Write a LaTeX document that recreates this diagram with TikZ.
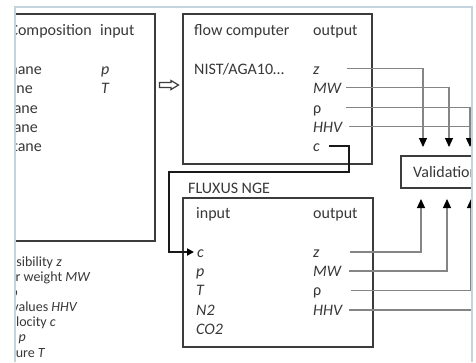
\documentclass[tikz,border=0pt]{standalone}
\usepackage{fontspec}
\setmainfont{Carlito}
\usetikzlibrary{arrows.meta}
\definecolor{boxc}{HTML}{3C3C3C}
\definecolor{linec}{HTML}{858585}
\definecolor{framec}{HTML}{C4D4DF}
\definecolor{txtc}{HTML}{383838}
\tikzset{
  box/.style={draw=boxc, line width=1.5pt, inner sep=0pt, fill=none},
  txt/.style={anchor=base west, inner sep=0pt, font=\fontsize{16}{19}\selectfont, text=txtc},
  rtxt/.style={anchor=base east, inner sep=0pt, font=\fontsize{16}{19}\selectfont, text=txtc},
  stxt/.style={anchor=base east, inner sep=0pt, font=\fontsize{14}{15}\selectfont, text=txtc},
  conn/.style={draw=linec, line width=1.2pt},
  vtip/.style={-{Triangle[length=9pt,width=8pt,color=black,fill=black]}},
  cconn/.style={draw=black!90, line width=1.8pt},
  ctip/.style={-{Triangle[length=7pt,width=7pt,color=black,fill=black]}},
  whitearrow/.style={draw=boxc, line width=1.2pt, line join=miter},
}
\begin{document}
\begin{tikzpicture}[x=1pt,y=-1pt]
\useasboundingbox (0,0) rectangle (476,362);
\fill[white] (0,0) rectangle (476,362);
\begin{scope}
\clip (15,7) rectangle (472,362);
% boxes
\node[box, anchor=north west, minimum width=164pt, minimum height=227pt] (comp) at (-10,13) {};
\node[box, anchor=north west, minimum width=189pt, minimum height=150pt] (fc) at (182,13) {};
\node[box, anchor=north west, minimum width=190pt, minimum height=149pt] (fl) at (182,197) {};
\node[box, anchor=north west, minimum width=100pt, minimum height=32pt] (val) at (400,155) {};
% composition box
\node[rtxt] (tcomp) at (92,35) {Composition};
\node[txt] (tin1) at (100,35) {input};
\node[rtxt] (g1) at (42,74) {Methane};
\node[rtxt] (g2) at (33,93) {Ethane};
\node[rtxt] (g3) at (38,113) {Propane};
\node[rtxt] (g4) at (38,132) {Butane};
\node[rtxt] (g5) at (42,151) {Pentane};
\node[txt] (ip) at (101,74) {\itshape p};
\node[txt] (iT) at (101,93) {\itshape T};
% white (hollow) arrow between the boxes
\draw[whitearrow] (159.5,82.5) -- (171,82.5) -- (171,80.5) -- (178.5,85) -- (171,89.5) -- (171,87.5) -- (159.5,87.5) -- cycle;
% flow computer
\node[txt] (tfc) at (194,35) {flow computer};
\node[txt] (tout1) at (313,35) {output};
\node[txt] (tnist) at (194,74) {NIST/AGA10…};
\node[txt] (fz) at (313,74) {\itshape z};
\node[txt] (fmw) at (313,93) {\itshape MW};
\node[txt] (frho) at (313,113) {ρ};
\node[txt] (fhhv) at (313,132) {\itshape HHV};
\node[txt] (fcc) at (313,151) {\itshape c};
% fluxus
\node[txt] (tfl) at (188,193) {FLUXUS NGE};
\node[txt] (tin2) at (196,218) {input};
\node[txt] (tout2) at (313,218) {output};
\node[txt] (lc) at (197,257) {\itshape c};
\node[txt] (lp) at (196,276) {\itshape p};
\node[txt] (lT) at (196,295.5) {\itshape T};
\node[txt] (lN) at (196,315) {\itshape N2};
\node[txt] (lCO) at (196,334) {\itshape CO2};
\node[txt] (lz) at (313,257) {\itshape z};
\node[txt] (lmw) at (313,276) {\itshape MW};
\node[txt] (lrho) at (313,295.5) {ρ};
\node[txt] (lhhv) at (313,315) {\itshape HHV};
% validation
\node[txt] (tval) at (413,177) {Validation};
% legend
\node[stxt] (k1) at (62,266) {Compressibility \itshape z};
\node[stxt] (k2) at (90,281) {Molar weight \itshape MW};
\node[stxt] (k3) at (18,296) {Density ρ};
\node[stxt] (k4) at (77,311) {Heating values \itshape HHV};
\node[stxt] (k5) at (56,326) {Sound velocity \itshape c};
\node[stxt] (k6) at (26,341) {Pressure \itshape p};
\node[stxt] (k7) at (45,357) {Temperature \itshape T};
% connector coordinates
\coordinate (fzo) at (347,68.5);
\coordinate (fmwo) at (346,87.5);
\coordinate (frhoo) at (346,107.5);
\coordinate (fhhvo) at (349,126.5);
\coordinate (fhhve) at (482,126.5);
\coordinate (fco) at (329,146);
\coordinate (vd1) at (423,147);
\coordinate (vd2) at (449,147);
\coordinate (vd3) at (470,147);
\coordinate (lzo) at (350,252);
\coordinate (lmwo) at (349,271);
\coordinate (lrhoo) at (351,290.5);
\coordinate (lhhvo) at (349,310);
\coordinate (lhhve) at (482,310);
\coordinate (vu1) at (421,199);
\coordinate (vu2) at (447,199);
\coordinate (vu3) at (471,199);
\coordinate (cb1) at (349,172);
\coordinate (cb2) at (169,252);
\coordinate (lci) at (194,252);
% connectors
\draw[conn, vtip] (fzo) -| (vd1);
\draw[conn, vtip] (fmwo) -| (vd2);
\draw[conn, vtip] (frhoo) -| (vd3);
\draw[conn] (fhhvo) -- (fhhve);
\draw[conn, vtip] (lzo) -| (vu1);
\draw[conn, vtip] (lmwo) -| (vu2);
\draw[conn, vtip] (lrhoo) -| (vu3);
\draw[conn] (lhhvo) -- (lhhve);
\draw[cconn, ctip] (fco) -| (cb1) -| (cb2) -- (lci);
\end{scope}
% frame of the crop
\draw[framec, line width=1.5pt] (15,362) -- (15,7) -- (472,7) -- (472,362);
\end{tikzpicture}
\end{document}
